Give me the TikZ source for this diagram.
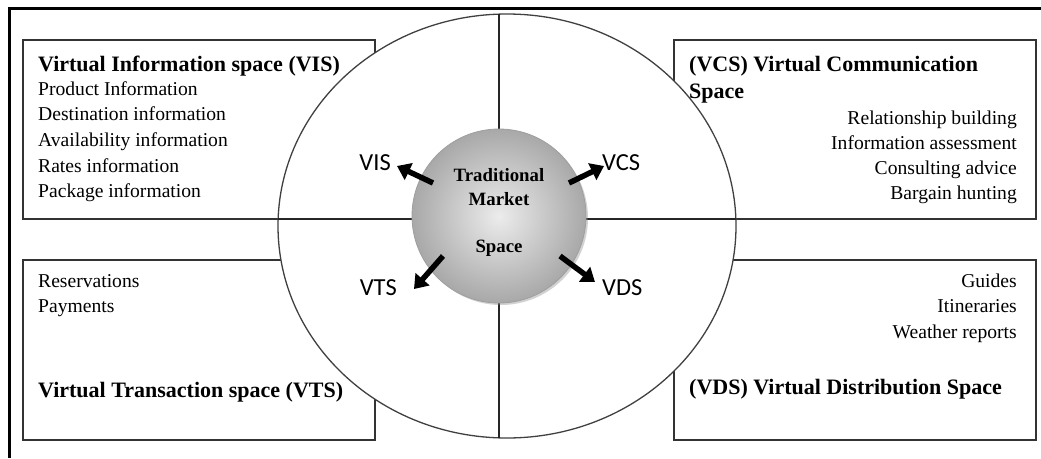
\documentclass[tikz,border=0pt]{standalone}
\usepackage{fontspec}
\setmainfont{Liberation Serif}
\newfontfamily\labelfont{Carlito}
\usetikzlibrary{arrows.meta,shapes.geometric,shadows}
\begin{document}
\begin{tikzpicture}[x=1pt,y=-1pt,
  box/.style={draw=black!80, line width=1.6pt, fill=white, inner sep=0pt, anchor=north west},
  head/.style={font=\fontsize{22}{26}\selectfont\bfseries, inner sep=0pt},
  item/.style={font=\fontsize{19.6}{24}\selectfont, inner sep=0pt},
  lbl/.style={font=\labelfont\fontsize{24.5}{28}\selectfont, inner sep=0pt},
  ctext/.style={font=\fontsize{18.8}{24}\selectfont\bfseries, inner sep=0pt, align=center},
  bigarrow/.style={line width=5.5pt, -{Triangle[width=18pt,length=13pt]}},
  divider/.style={line width=1.3pt, black!85}]
\useasboundingbox (0,0) rectangle (1041,458);
% outer frame
\draw[line width=3pt] (1041,8) -- (9,8) -- (9,458);
% boxes
\node[box, minimum width=352, minimum height=179] (vis) at (22,39) {};
\node[box, minimum width=362, minimum height=179] (vcs) at (673,39) {};
\node[box, minimum width=352, minimum height=180] (vts) at (22,259) {};
\node[box, minimum width=362, minimum height=180] (vds) at (673,259) {};
% big ellipse
\node[draw=black!75, line width=1.3pt, fill=white, ellipse, inner sep=0pt,
      minimum width=458, minimum height=424] (big) at (507,226) {};
\coordinate (vtop) at (499,14);
\coordinate (vbot) at (499,438);
\coordinate (hl) at (278,219);
\coordinate (hr) at (736,219);
\draw[divider] (vtop) -- (vbot);
\draw[divider] (hl) -- (hr);
% inner circle
\node[circle, inner sep=0pt, minimum size=174, draw=gray!75, line width=0.8pt,
      shading=radial, inner color=gray!15, outer color=gray!68,
      drop shadow={shadow xshift=2pt, shadow yshift=-2pt, opacity=0.35}] (tm) at (499,216) {};
\node[ctext] (tmtext) at (499,187) {Traditional\\Market};
\node[ctext] (tmspace) at (499,248) {Space};
% arrows
\coordinate (a1s) at (433,183); \coordinate (a1e) at (397,166);
\coordinate (a2s) at (569,183); \coordinate (a2e) at (604,166);
\coordinate (a3s) at (443,256); \coordinate (a3e) at (414,289);
\coordinate (a4s) at (560,256); \coordinate (a4e) at (595,282);
\draw[bigarrow] (a1s) -- (a1e);
\draw[bigarrow] (a2s) -- (a2e);
\draw[bigarrow] (a3s) -- (a3e);
\draw[bigarrow] (a4s) -- (a4e);
\node[lbl, anchor=east] (lvis) at (391,163) {VIS};
\node[lbl, anchor=west] (lvcs) at (602,163) {VCS};
\node[lbl, anchor=east] (lvts) at (397,288) {VTS};
\node[lbl, anchor=west] (lvds) at (602,288) {VDS};
% VIS text
\node[head, anchor=base west] (vish) at (38,71) {Virtual Information space (VIS)};
\foreach \t [count=\i] in {Product Information, Destination information, Availability information, Rates information, Package information}
  \node[item, anchor=base west] (visi\i) at (38,{95+25.7*(\i-1)}) {\t};
% VCS text
\node[head, anchor=base west] (vcsh1) at (689,71) {(VCS) Virtual Communication};
\node[head, anchor=base west] (vcsh2) at (689,98) {Space};
\foreach \t [count=\i] in {Relationship building, Information assessment, Consulting advice, Bargain hunting}
  \node[item, anchor=base east] (vcsi\i) at (1017,{124+25.2*(\i-1)}) {\t};
% VTS text
\node[item, anchor=base west] (vtsi1) at (38,287) {Reservations};
\node[item, anchor=base west] (vtsi2) at (38,312) {Payments};
\node[head, anchor=base west] (vtsh) at (38,397) {Virtual Transaction space (VTS)};
% VDS text
\foreach \t [count=\i] in {Guides, Itineraries, Weather reports}
  \node[item, anchor=base east] (vdsi\i) at (1017,{287+25.5*(\i-1)}) {\t};
\node[head, anchor=base west] (vdsh) at (689,394) {(VDS) Virtual Distribution Space};
\end{tikzpicture}
\end{document}
